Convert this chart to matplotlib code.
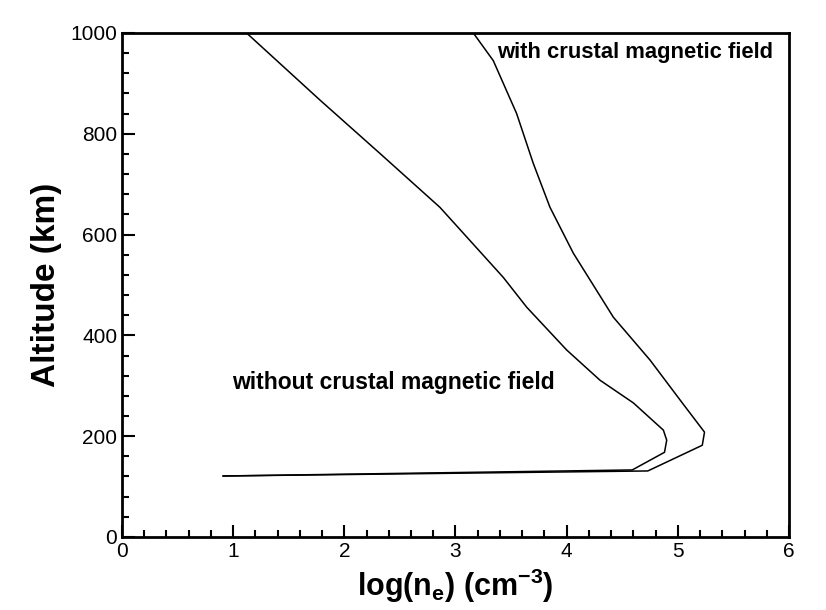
import matplotlib
matplotlib.use('Agg')
import matplotlib.pyplot as plt
from matplotlib.ticker import MultipleLocator

plt.rcParams['font.family'] = ['Liberation Sans', 'DejaVu Sans']
plt.rcParams['mathtext.fontset'] = 'custom'
plt.rcParams['mathtext.rm'] = 'Liberation Sans:bold'
plt.rcParams['mathtext.bf'] = 'Liberation Sans:bold'

# electron density profiles, log10(ne) vs altitude in km
logNeWithout = [0.91, 4.59, 4.88, 4.90, 4.87, 4.60, 4.30, 4.00, 3.64, 3.43, 2.86, 2.32, 1.78, 1.12]
altWithout = [121, 133, 168, 192, 212, 266, 311, 371, 456, 515, 654, 761, 867, 1000]

logNeWith = [0.91, 4.73, 5.22, 5.24, 5.04, 4.75, 4.42, 4.06, 3.85, 3.70, 3.55, 3.34, 3.16]
altWith = [121, 131, 182, 208, 266, 351, 436, 563, 654, 741, 840, 945, 1000]

fig = plt.figure(figsize=(8.26, 6.10), dpi=100)
ax = fig.add_axes([0.1477, 0.1197, 0.8075, 0.8263])

ax.plot(logNeWithout, altWithout, color='black', lw=1.1)
ax.plot(logNeWith, altWith, color='black', lw=1.1)

ax.text(0.99, 307, 'without crustal magnetic field', fontsize=16.5, fontweight='bold',
        va='center', ha='left')
ax.text(3.37, 961, 'with crustal magnetic field', fontsize=15.8, fontweight='bold',
        va='center', ha='left')

ax.set_xlim(0, 6)
ax.set_ylim(0, 1000)
ax.xaxis.set_major_locator(MultipleLocator(1))
ax.xaxis.set_minor_locator(MultipleLocator(0.2))
ax.yaxis.set_major_locator(MultipleLocator(200))
ax.yaxis.set_minor_locator(MultipleLocator(40))
ax.tick_params(which='both', direction='in', width=1.5, labelsize=15)
ax.tick_params(which='major', length=9)
ax.tick_params(which='minor', length=5)
ax.tick_params(top=False, right=False)
for s in ax.spines.values():
    s.set_linewidth(2)

ax.set_ylabel('Altitude (km)', fontsize=24, fontweight='bold', labelpad=6)
ax.set_xlabel(r'log(n$_\mathbf{e}$) (cm$^\mathbf{-3}$)', fontsize=22, fontweight='bold', labelpad=4)

fig.savefig('out.png', dpi=100, facecolor='white')
